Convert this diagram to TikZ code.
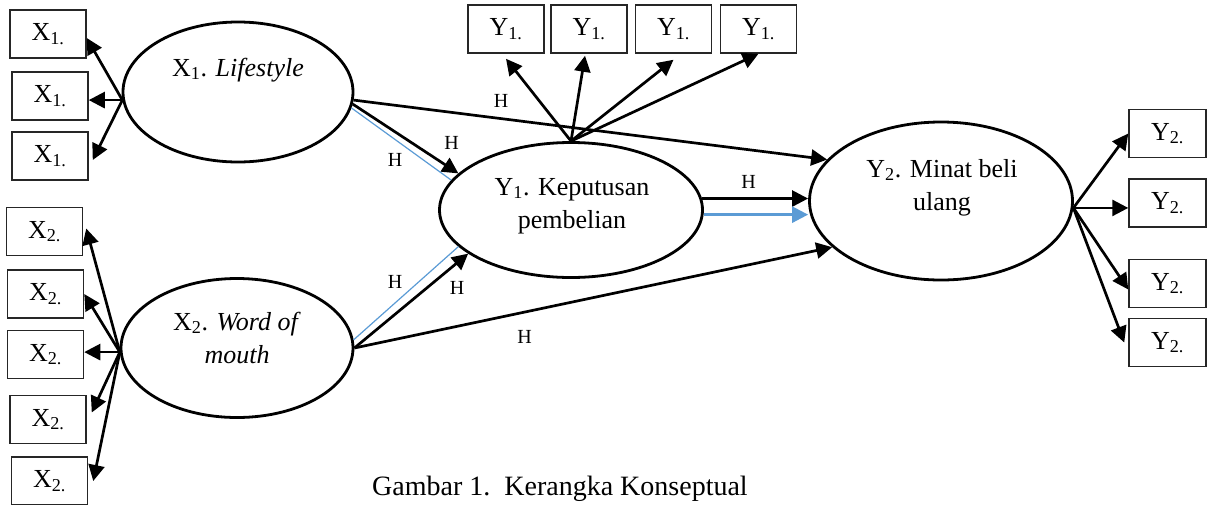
\documentclass[tikz,border=0pt]{standalone}
\usepackage{fontspec}
\setmainfont{Liberation Serif}
\usetikzlibrary{arrows.meta,shapes.geometric}
\definecolor{pathblue}{RGB}{91,155,213}
\newcommand{\twolines}[2]{\begin{tabular}[t]{@{}c@{}}#1\\#2\end{tabular}}
\tikzset{
  latent/.style={ellipse, draw=black, line width=2.8pt, inner sep=0pt},
  indic/.style={rectangle, draw=black!85, line width=1.5pt, minimum width=76pt,
    minimum height=48pt, inner sep=0pt, font=\fontsize{26}{30}\selectfont},
  lbl/.style={font=\fontsize{26}{33}\selectfont, inner sep=0pt, anchor=base},
  hyp/.style={font=\fontsize{20}{24}\selectfont, inner sep=0pt},
  arr/.style={line width=2.7pt, -{Triangle[length=16pt,width=16pt]}},
  bluearr/.style={line width=2.7pt, draw=pathblue, -{Triangle[length=16pt,width=16pt]}},
  blueline/.style={line width=1.2pt, draw=pathblue},
}
\begin{document}
\begin{tikzpicture}[x=1pt,y=-1pt]
\useasboundingbox (0,0) rectangle (1207,504);

% latent constructs
\node[latent, minimum width=230pt, minimum height=140pt] (x1e) at (238,92) {};
\node[latent, minimum width=232pt, minimum height=139pt] (x2e) at (237,348) {};
\node[latent, minimum width=263pt, minimum height=135pt] (y1e) at (571,210) {};
\node[latent, minimum width=263pt, minimum height=158pt] (y2e) at (941,201) {};

\node[lbl] (x1t) at (238,76) {X\textsubscript{1}. \textit{Lifestyle}};
\node[lbl] (x2t) at (237,330) {\twolines{X\textsubscript{2}. \textit{Word of}}{\textit{mouth}}};
\node[lbl] (y1t) at (572,195) {\twolines{Y\textsubscript{1}. Keputusan}{pembelian}};
\node[lbl] (y2t) at (942,177) {\twolines{Y\textsubscript{2}. Minat beli}{ulang}};

% indicator boxes
\node[indic] (b11) at (48,34)   {X\textsubscript{1.}};
\node[indic] (b12) at (50,96)   {X\textsubscript{1.}};
\node[indic] (b13) at (50,156)  {X\textsubscript{1.}};

\node[indic] (b21) at (44.5,231.5) {X\textsubscript{2.}};
\node[indic] (b22) at (45.5,294)   {X\textsubscript{2.}};
\node[indic] (b23) at (45.5,354.5) {X\textsubscript{2.}};
\node[indic] (b24) at (48,419.5)   {X\textsubscript{2.}};
\node[indic] (b25) at (49.5,481)   {X\textsubscript{2.}};

\node[indic] (c1) at (506,29)   {Y\textsubscript{1.}};
\node[indic] (c2) at (589,29)   {Y\textsubscript{1.}};
\node[indic] (c3) at (673.5,29) {Y\textsubscript{1.}};
\node[indic] (c4) at (758.5,29) {Y\textsubscript{1.}};

\node[indic, minimum width=77pt] (d1) at (1167.5,133.5) {Y\textsubscript{2.}};
\node[indic, minimum width=77pt] (d2) at (1167.5,203)   {Y\textsubscript{2.}};
\node[indic, minimum width=77pt] (d3) at (1167.5,283.5) {Y\textsubscript{2.}};
\node[indic, minimum width=77pt] (d4) at (1167.5,342.5) {Y\textsubscript{2.}};

% indicator arrows
\draw[arr] (x1e.184) -- ([yshift=-4pt]b11.east);
\draw[arr] (x1e.184) -- (x1e.184 -| b12.east);
\draw[arr] (x1e.184) -- ([xshift=4pt,yshift=-4pt]b13.east);

\draw[arr] (x2e.182) -- ([xshift=3pt,yshift=3pt]b21.east);
\draw[arr] (x2e.182) -- (b22.east);
\draw[arr] (x2e.182) -- (x2e.182 -| b23.east);
\draw[arr] (x2e.182) -- ([xshift=5pt,yshift=7pt]b24.east);
\draw[arr] (x2e.182) -- ([xshift=5pt]b25.east);

\draw[arr] (y1e.north) -- ([yshift=-5pt]c1.south);
\draw[arr] (y1e.north) -- ([xshift=-4pt,yshift=-2pt]c2.south);
\draw[arr] (y1e.north) -- ([yshift=-6pt]c3.south);
\draw[arr] (y1e.north) -- (c4.south);

\draw[arr] (y2e.-3) -- (d1.west);
\draw[arr] (y2e.-3) -- (y2e.-3 -| d2.west);
\draw[arr] (y2e.-3) -- ([yshift=-6pt]d3.west);
\draw[arr] (y2e.-3) -- ([xshift=-4pt]d4.west);

% structural paths
\draw[arr] (x1e.-4) -- (y2e.160);
\draw[arr] (x1e.-6) -- (y1e.162);
\draw[blueline] (x1e.-8) -- (y1e.166);

\draw[arr] (y1e.5) -- (y1e.5 -| y2e.west);
\draw[bluearr] (y1e.-2) -- (y1e.-2 -| y2e.west);

\draw[arr] (x2e.east) -- (y1e.203);
\draw[blueline] (x2e.4) -- (y1e.198);
\draw[arr] (x2e.east) -- (y2e.203);

% hypothesis labels
\node[hyp] (h1) at (501,101)   {H};
\node[hyp] (h2) at (451.7,143) {H};
\node[hyp] (h3) at (395,159.5) {H};
\node[hyp] (h4) at (748.5,181.5) {H};
\node[hyp] (h5) at (395,282)   {H};
\node[hyp] (h6) at (457,287.5) {H};
\node[hyp] (h7) at (524.5,337) {H};

% caption
\node[font=\fontsize{28}{32}\selectfont, inner sep=0pt, anchor=base west] (cap) at (372,495)
  {Gambar 1.\ \ Kerangka Konseptual};
\end{tikzpicture}
\end{document}
